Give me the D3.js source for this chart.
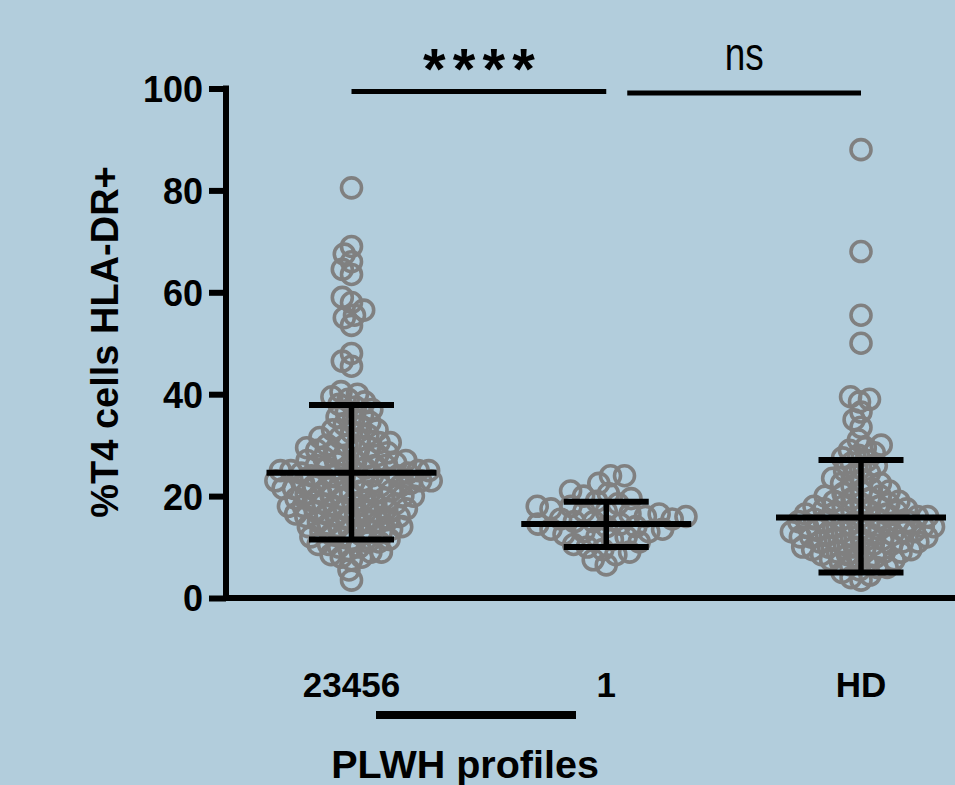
<!DOCTYPE html>
<html>
<head>
<meta charset="utf-8">
<script src="https://cdn.jsdelivr.net/npm/d3@7"></script>
<style>
  body { margin: 0; background: #b2cddc; }
  svg { display: block; font-family: "Liberation Sans", Arial, sans-serif; }
</style>
</head>
<body>
<div id="chart"></div>
<script>
var svgWidth = 955;
var svgHeight = 785;

// groups and tick labels
var groups = ["23456", "1", "HD"];
var yTicks = [0, 20, 40, 60, 80, 100];

// %T4 cells HLA-DR+ per individual
var values23456 = [
  80.5, 69, 67.5, 66, 64.5, 63.5, 59, 58, 56.5, 55.5, 55, 53.5, 48, 46.5, 45.5,
  40.5, 40, 39.5, 39, 38.5, 38, 37.5, 37, 36.5, 36, 35.5, 35,
  34.5, 34, 33.5, 33, 33, 32.5, 32, 31.5, 31.5, 31, 30.5, 30.5, 30, 30, 29.5, 29.5,
  29, 29, 28.5, 28.5, 28, 28, 27.5, 27.5, 27, 27, 27, 26.5, 26.5, 26, 26, 26, 25.5, 25.5, 25.5, 25, 25, 25, 25,
  24.5, 24.5, 24.5, 24, 24, 24, 24, 23.5, 23.5, 23.5, 23, 23, 23, 23, 22.5, 22.5, 22.5,
  22, 22, 22, 22, 21.5, 21.5, 21.5, 21, 21, 21, 20.5, 20.5, 20.5, 20, 20, 20,
  19.5, 19.5, 19.5, 19, 19, 19, 18.5, 18.5, 18.5, 18, 18, 18, 17.5, 17.5, 17.5,
  17, 17, 17, 16.5, 16.5, 16.5, 16, 16, 16, 15.5, 15.5, 15, 15, 15,
  14.5, 14.5, 14, 14, 14, 13.5, 13.5, 13, 13, 13, 12.5, 12.5, 12, 12, 11.5, 11.5, 11, 11, 10.5, 10.5, 10, 10,
  9.5, 9, 9, 8.5, 8, 8, 7.5, 5.5, 3.5
];
var values1 = [
  24, 24, 22.5, 21, 20.5, 20, 19.5, 19, 18.5, 18, 18, 17.5, 17, 17, 16.5, 16.5, 16, 16, 15.5, 15.5, 15,
  15, 14.5, 14.5, 14, 14, 13.5, 13.5, 13, 13, 12.5, 12, 12, 11.5, 11, 10.5, 10, 9.5, 9, 8.5, 7.5, 6.5
];
var valuesHD = [
  88, 68, 55.5, 50, 39.5, 39, 38.5, 36.5, 35, 33.5, 31, 30, 29.5, 29, 28.5, 28, 27.5, 27, 26.5, 26, 25.5,
  25, 24.5, 24, 23.5, 23, 22.5, 22.5, 22, 21.5, 21, 21, 20.5, 20, 20, 19.5, 19.5, 19, 19, 18.5, 18.5,
  18, 18, 18, 17.5, 17.5, 17, 17, 17, 16.5, 16.5, 16.5, 16, 16, 16, 15.5, 15.5, 15.5, 15, 15, 15, 15,
  14.5, 14.5, 14.5, 14, 14, 14, 14, 13.5, 13.5, 13.5, 13, 13, 13, 13, 12.5, 12.5, 12.5, 12, 12, 12, 12,
  11.5, 11.5, 11.5, 11, 11, 11, 10.5, 10.5, 10.5, 10, 10, 10, 9.5, 9.5, 9.5, 9, 9, 9, 8.5, 8.5, 8, 8,
  7.5, 7.5, 7, 7, 6.5, 6, 6, 5.5, 5, 4.5, 4, 3.5
];

// mean and SD limits as drawn
var means = [24.6, 14.5, 15.8];
var sdHigh = [37.9, 18.9, 27.1];
var sdLow = [11.5, 10.0, 5.0];

// significance brackets
var sigLabels = ["****", "ns"];

var groupValues = [values23456, values1, valuesHD];

var svg = d3.select("#chart")
  .append("svg")
  .attr("width", svgWidth)
  .attr("height", svgHeight);

svg.append("rect")
  .attr("width", svgWidth)
  .attr("height", svgHeight)
  .attr("fill", "#b2cddc");

var axisX = 226;
var yScale = d3.scaleLinear().domain([0, 100]).range([598, 88.5]);
var xScale = d3.scalePoint().domain(groups).range([351.5, 861]);

// beeswarm: put each point at the x nearest the centre that keeps distance d
function swarm(vals, d) {
  var pts = vals.map(function(v) { return { v: v, y: yScale(v) }; })
    .sort(function(a, b) { return a.v - b.v; });
  var placed = [];
  pts.forEach(function(p) {
    var ivs = [];
    placed.forEach(function(q) {
      var dy = Math.abs(q.y - p.y);
      if (dy < d) {
        var dx = Math.sqrt(d * d - dy * dy);
        ivs.push([q.x - dx, q.x + dx]);
      }
    });
    var cands = [0];
    ivs.forEach(function(iv) { cands.push(iv[0], iv[1]); });
    cands.sort(function(a, b) { return Math.abs(a) - Math.abs(b); });
    for (var i = 0; i < cands.length; i++) {
      var c = cands[i];
      var ok = ivs.every(function(iv) { return c <= iv[0] + 1e-6 || c >= iv[1] - 1e-6; });
      if (ok) { p.x = c; break; }
    }
    placed.push(p);
  });
  return placed;
}

var spacing = [10.5, 14, 10.3];

groups.forEach(function(g, gi) {
  var pts = swarm(groupValues[gi], spacing[gi]);
  svg.append("g")
    .selectAll("circle")
    .data(pts)
    .enter().append("circle")
    .attr("cx", function(d) { return xScale(g) + d.x; })
    .attr("cy", function(d) { return d.y; })
    .attr("r", 10)
    .attr("fill", "none")
    .attr("stroke", "#808080")
    .attr("stroke-width", 3.6);
});

// mean and SD bars
var bars = svg.append("g").attr("stroke", "#000").attr("stroke-width", 6);
groups.forEach(function(g, gi) {
  var cx = xScale(g);
  bars.append("line")
    .attr("x1", cx - 85).attr("x2", cx + 85)
    .attr("y1", yScale(means[gi])).attr("y2", yScale(means[gi]));
  bars.append("line")
    .attr("x1", cx).attr("x2", cx)
    .attr("y1", yScale(sdHigh[gi])).attr("y2", yScale(sdLow[gi]))
    .attr("stroke-width", 5.5);
  [sdHigh[gi], sdLow[gi]].forEach(function(v) {
    bars.append("line")
      .attr("x1", cx - 42.5).attr("x2", cx + 42.5)
      .attr("y1", yScale(v)).attr("y2", yScale(v));
  });
});

// y axis
var yAxis = d3.axisLeft(yScale).tickValues(yTicks).tickSize(17).tickPadding(6);
var yG = svg.append("g")
  .attr("transform", "translate(" + axisX + ",0)")
  .call(yAxis);
yG.select(".domain").remove();
yG.selectAll(".tick line").attr("stroke", "#000").attr("stroke-width", 6);
yG.selectAll(".tick text")
  .attr("font-size", 36)
  .attr("font-weight", "bold")
  .attr("fill", "#000")
  .attr("dy", "0.36em")
  .attr("font-family", "Liberation Sans, Arial, sans-serif");

svg.append("line")
  .attr("x1", axisX).attr("x2", axisX)
  .attr("y1", yScale(100) - 3).attr("y2", yScale(0) + 3)
  .attr("stroke", "#000").attr("stroke-width", 6);

// x axis (no ticks)
svg.append("line")
  .attr("x1", axisX - 3).attr("x2", svgWidth)
  .attr("y1", yScale(0)).attr("y2", yScale(0))
  .attr("stroke", "#000").attr("stroke-width", 6);

svg.append("g")
  .selectAll("text")
  .data(groups)
  .enter().append("text")
  .attr("x", function(d) { return xScale(d); })
  .attr("y", 697)
  .attr("text-anchor", "middle")
  .attr("font-size", 35)
  .attr("font-weight", "bold")
  .text(function(d) { return d; });

// bar under the PLWH group labels
svg.append("line")
  .attr("x1", 376).attr("x2", 576)
  .attr("y1", 715).attr("y2", 715)
  .attr("stroke", "#000").attr("stroke-width", 8);

svg.append("text")
  .attr("x", 465)
  .attr("y", 778)
  .attr("text-anchor", "middle")
  .attr("font-size", 39.5)
  .attr("font-weight", "bold")
  .text("PLWH profiles");

svg.append("text")
  .attr("transform", "translate(118,342) rotate(-90)")
  .attr("text-anchor", "middle")
  .attr("font-size", 38)
  .attr("font-weight", "bold")
  .text("%T4 cells HLA-DR+");

// significance
var sigSpans = [
  [xScale(groups[0]), xScale(groups[1]), 91.5],
  [xScale(groups[1]) + 21, xScale(groups[2]), 93]
];
sigSpans.forEach(function(s, i) {
  svg.append("line")
    .attr("x1", s[0]).attr("x2", s[1])
    .attr("y1", s[2]).attr("y2", s[2])
    .attr("stroke", "#000").attr("stroke-width", 5);
});
svg.append("text")
  .attr("x", (sigSpans[0][0] + sigSpans[0][1]) / 2)
  .attr("y", 89)
  .attr("text-anchor", "middle")
  .attr("font-size", 58)
  .attr("font-weight", "bold")
  .attr("textLength", 112)
  .attr("lengthAdjust", "spacing")
  .text(sigLabels[0]);
svg.append("text")
  .attr("x", (sigSpans[1][0] + sigSpans[1][1]) / 2)
  .attr("y", 70)
  .attr("text-anchor", "middle")
  .attr("font-size", 46)
  .attr("textLength", 39)
  .attr("lengthAdjust", "spacingAndGlyphs")
  .text(sigLabels[1]);
</script>
</body>
</html>
